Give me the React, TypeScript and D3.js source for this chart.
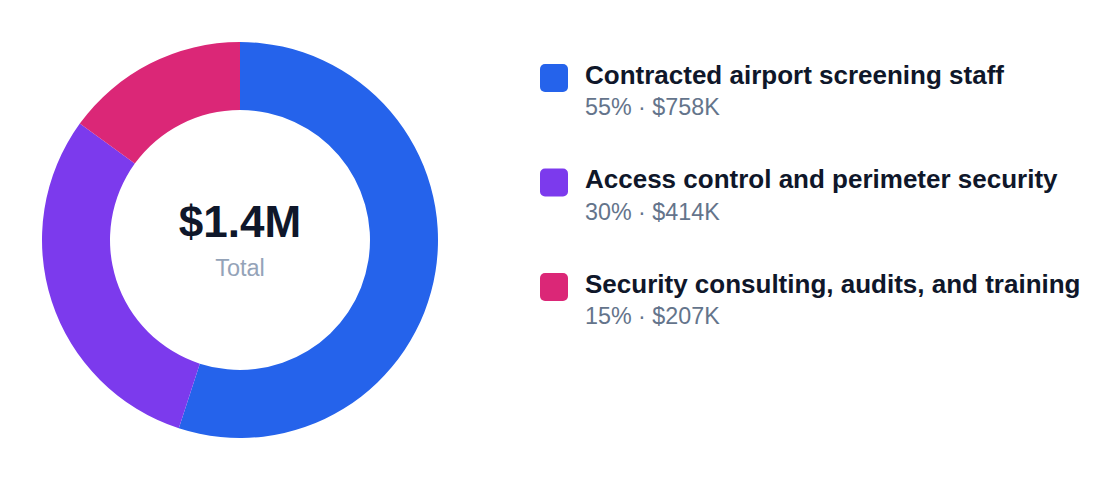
import React from "react";
import * as d3 from "d3";

const categories = [
  "Contracted airport screening staff",
  "Access control and perimeter security",
  "Security consulting, audits, and training",
];
const values = [758, 414, 207]; // $K
const percents = [55, 30, 15];
const colors = ["#2563eb", "#7c3aed", "#db2777"];
const totalLabel = "$1.4M";
const totalCaption = "Total";

const W = 1120;
const H = 480;
const FONT = "'Liberation Sans', Arial, Helvetica, sans-serif";

export default function App() {
  const cx = 240;
  const cy = 240;
  const outerR = 198;
  const innerR = 130;

  const pie = d3
    .pie<number>()
    .sort(null)
    .value((d) => d)
    .startAngle(0)
    .endAngle(2 * Math.PI);
  const arcs = pie(percents);
  const arcGen = d3.arc<d3.PieArcDatum<number>>().innerRadius(innerR).outerRadius(outerR);

  const legendX = 540;
  const rowY = d3.scaleLinear().domain([0, 1]).range([64, 168.5]);

  return (
    <svg
      width={W}
      height={H}
      style={{ position: "absolute", left: 0, top: 0, display: "block", background: "#fff" }}
      fontFamily={FONT}
    >
      <g transform={`translate(${cx},${cy})`}>
        {arcs.map((a, i) => (
          <path key={i} d={arcGen(a) || ""} fill={colors[i]} />
        ))}
        <text
          x={0}
          y={-3}
          textAnchor="middle"
          fontSize={44}
          fontWeight={700}
          fill="#0f172a"
        >
          {totalLabel}
        </text>
        <text x={0} y={36} textAnchor="middle" fontSize={23.5} fill="#94a3b8">
          {totalCaption}
        </text>
      </g>
      {categories.map((c, i) => {
        const y = rowY(i);
        return (
          <g key={c} transform={`translate(${legendX},${y})`}>
            <rect x={0} y={0} width={28} height={28} rx={5} fill={colors[i]} />
            <text x={45} y={19.5} fontSize={26} fontWeight={700} fill="#0f172a">
              {c}
            </text>
            <text x={45} y={51} fontSize={23.3} fill="#64748b">
              {`${percents[i]}% · $${values[i]}K`}
            </text>
          </g>
        );
      })}
    </svg>
  );
}
